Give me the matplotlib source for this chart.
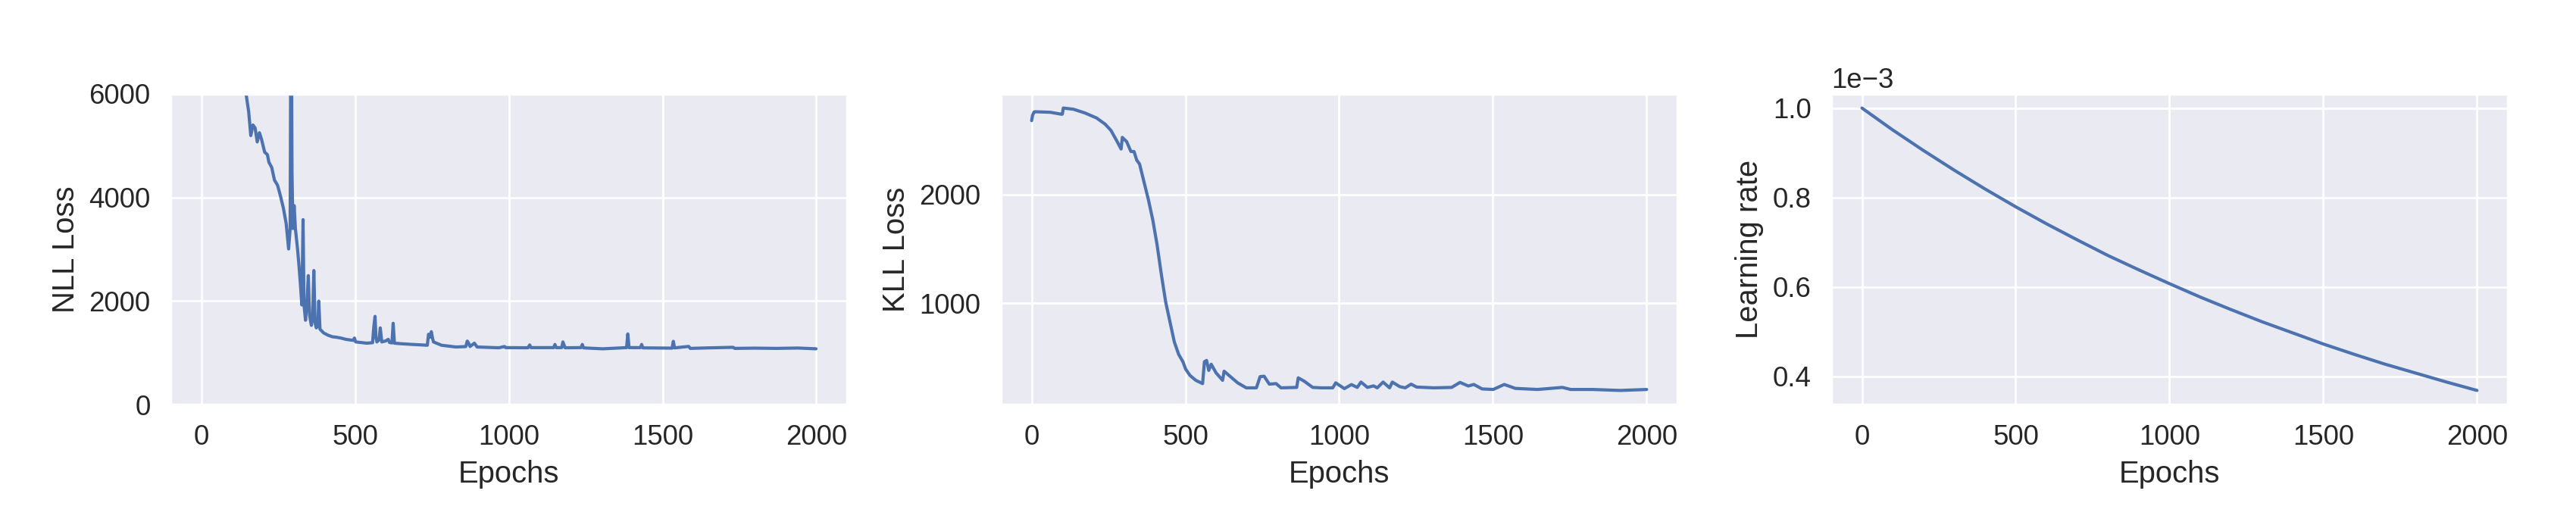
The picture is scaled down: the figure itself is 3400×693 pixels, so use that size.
import matplotlib
matplotlib.use("Agg")
import matplotlib.pyplot as plt
import seaborn as sns

# values
nll_epochs = [0, 60, 110, 140, 148, 154, 161, 168, 175, 182, 189, 196, 206, 215, 220, 229, 238, 248,
              257, 267, 276, 284, 289, 292, 295, 298, 302, 306, 313, 318, 323, 327, 331, 334, 339, 344,
              348, 352, 358, 362, 366, 370, 374, 379, 382, 386, 398, 412, 426, 440, 454, 470, 494, 498,
              502, 538, 557, 561, 565, 568, 571, 578, 582, 587, 600, 608, 612, 620, 624, 628, 650, 688,
              735, 739, 744, 748, 752, 755, 781, 828, 860, 865, 870, 874, 888, 897, 968, 986, 990, 1062,
              1068, 1072, 1146, 1150, 1154, 1172, 1176, 1183, 1235, 1239, 1243, 1305, 1383, 1387, 1391,
              1428, 1432, 1436, 1531, 1535, 1539, 1585, 1590, 1650, 1729, 1735, 1800, 1870, 1940, 1999]
nll_values = [14000, 9500, 7300, 6250, 5900, 5663, 5196, 5400, 5343, 5073, 5250, 5122, 4876, 4827, 4679,
              4581, 4335, 4237, 4039, 3793, 3498, 3006, 3400, 9000, 4483, 3400, 3843, 3400, 3006, 2663,
              2268, 1924, 3572, 1924, 1629, 2000, 2490, 1727, 1530, 1700, 2589, 1580, 1481, 1520, 1998,
              1456, 1383, 1340, 1310, 1300, 1285, 1260, 1240, 1285, 1210, 1186, 1195, 1500, 1703, 1300,
              1210, 1250, 1481, 1210, 1230, 1260, 1200, 1190, 1570, 1186, 1175, 1161, 1146, 1358, 1300,
              1407, 1280, 1210, 1146, 1112, 1120, 1226, 1180, 1121, 1186, 1112, 1097, 1121, 1100, 1097,
              1151, 1100, 1100, 1161, 1100, 1100, 1210, 1097, 1100, 1161, 1095, 1077, 1100, 1364, 1100,
              1100, 1161, 1095, 1090, 1221, 1095, 1123, 1085, 1095, 1106, 1085, 1090, 1085, 1092, 1077]

kll_epochs = [0, 3, 8, 12, 61, 97, 100, 103, 136, 173, 211, 239, 258, 276, 291, 295, 309, 323, 333, 342,
              351, 366, 380, 394, 408, 422, 436, 450, 464, 478, 492, 501, 515, 534, 556, 562, 569, 576,
              584, 600, 614, 621, 626, 642, 670, 698, 731, 743, 756, 773, 795, 811, 862, 867, 886, 914,
              942, 979, 989, 1017, 1040, 1059, 1071, 1092, 1112, 1124, 1143, 1164, 1173, 1197, 1215,
              1234, 1252, 1308, 1366, 1393, 1420, 1438, 1465, 1501, 1537, 1573, 1645, 1726, 1753, 1825,
              1914, 2000]
kll_values = [2680, 2728, 2760, 2762, 2757, 2739, 2740, 2796, 2785, 2751, 2705, 2648, 2590, 2499, 2419,
              2526, 2487, 2396, 2396, 2316, 2281, 2110, 1950, 1767, 1538, 1263, 1011, 828, 645, 531, 462,
              394, 336, 291, 261, 462, 474, 382, 439, 359, 314, 291, 375, 336, 268, 222, 222, 325, 329,
              256, 261, 222, 226, 314, 284, 226, 222, 222, 268, 215, 252, 226, 275, 226, 240, 222, 275,
              222, 275, 233, 222, 256, 229, 222, 226, 272, 239, 253, 212, 207, 253, 217, 207, 226, 207,
              207, 198, 207]

lr_epochs = [0, 100, 200, 300, 400, 500, 600, 700, 800, 900, 1000, 1100, 1200, 1300, 1400, 1500,
             1600, 1700, 1800, 1900, 2000]
lr_values = [1.000e-3, 0.951e-3, 0.905e-3, 0.861e-3, 0.819e-3, 0.779e-3, 0.741e-3, 0.705e-3, 0.670e-3,
             0.638e-3, 0.607e-3, 0.577e-3, 0.549e-3, 0.522e-3, 0.497e-3, 0.472e-3, 0.449e-3, 0.427e-3,
             0.407e-3, 0.387e-3, 0.368e-3]

sns.set_theme(style="darkgrid", font_scale=1.2)
plt.rcParams["font.family"] = ["Liberation Sans", "DejaVu Sans"]

fig, axes = plt.subplots(1, 3, figsize=(17, 3.465), dpi=200)
fig.subplots_adjust(left=0.0662, right=0.9735, bottom=0.2294, top=0.8211, wspace=0.2273)

ax = axes[0]
ax.plot(nll_epochs, nll_values, color="#4C72B0", linewidth=1.5)
ax.set_xlim(-100, 2100)
ax.set_ylim(0, 6000)
ax.set_yticks([0, 2000, 4000, 6000])
ax.set_xlabel("Epochs")
ax.set_ylabel("NLL Loss")

ax = axes[1]
ax.plot(kll_epochs, kll_values, color="#4C72B0", linewidth=1.5)
ax.set_xlabel("Epochs")
ax.set_ylabel("KLL Loss")

ax = axes[2]
ax.plot(lr_epochs, lr_values, color="#4C72B0", linewidth=1.5)
ax.ticklabel_format(axis="y", style="sci", scilimits=(0, 0))
ax.set_xlabel("Epochs")
ax.set_ylabel("Learning rate")

for ax in axes:
    ax.set_xticks([0, 500, 1000, 1500, 2000])

fig.savefig("out.png", dpi=200)
plt.close(fig)
